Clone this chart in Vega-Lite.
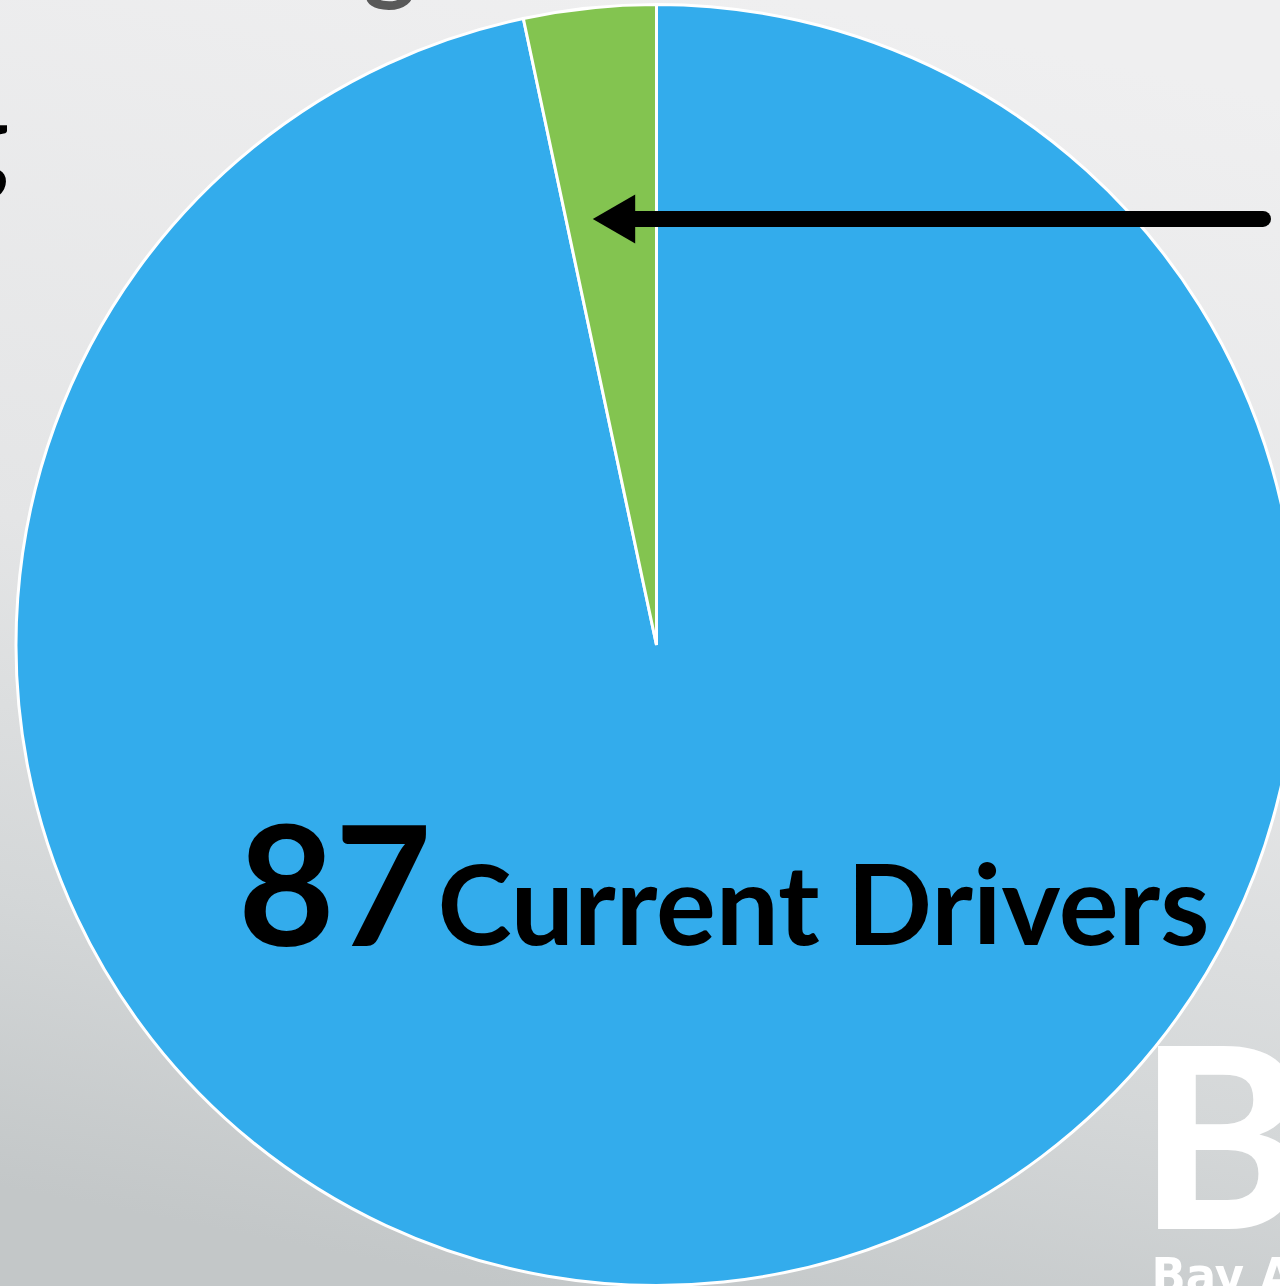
{
  "$schema": "https://vega.github.io/schema/vega-lite/v6.json",
  "autosize": "none",
  "width": 1313,
  "height": 1290,
  "padding": 0,
  "background": "#e6e7e8",
  "config": {"view": {"stroke": null}},
  "data": {
    "values": [
      {"category": "Current Drivers", "count": 87, "rank": 1},
      {"category": "Drivers in Training", "count": 3, "rank": 2}
    ]
  },
  "layer": [
    {
      "data": {"values": [{"label": "background"}]},
      "mark": {
        "type": "rect",
        "fill": {
          "gradient": "linear",
          "x1": 0.6, "y1": 0, "x2": 0.4, "y2": 1,
          "stops": [
            {"offset": 0, "color": "#efeff0"},
            {"offset": 0.5, "color": "#e4e5e6"},
            {"offset": 0.78, "color": "#d4d7d8"},
            {"offset": 1, "color": "#c3c7c8"}
          ]
        }
      },
      "encoding": {}
    },
    {
      "mark": {"type": "arc", "radius": 640.5, "stroke": "#ffffff", "strokeWidth": 3},
      "encoding": {
        "theta": {"field": "count", "type": "quantitative", "stack": true},
        "order": {"field": "rank", "type": "quantitative"},
        "color": {
          "field": "category",
          "type": "nominal",
          "scale": {"domain": ["Current Drivers", "Drivers in Training"], "range": ["#33acec", "#83c450"]},
          "legend": null
        }
      }
    },
    {
      "transform": [{"filter": "datum.category === 'Drivers in Training'"}],
      "mark": {"type": "rule", "color": "#000000", "strokeWidth": 16, "strokeCap": "round"},
      "encoding": {
        "x": {"datum": -0.049, "type": "quantitative", "scale": {"domain": [-1.0226, 1.0226], "nice": false, "zero": false}, "axis": null},
        "x2": {"datum": 0.9447},
        "y": {"datum": 0.6636, "type": "quantitative", "scale": {"domain": [-1.00467, 1.00467], "nice": false, "zero": false}, "axis": null}
      }
    },
    {
      "transform": [{"filter": "datum.category === 'Drivers in Training'"}],
      "mark": {"type": "point", "shape": "triangle-left", "filled": true, "color": "#000000", "opacity": 1, "size": 2400, "strokeWidth": 0},
      "encoding": {
        "x": {"datum": -0.0662, "type": "quantitative", "scale": {"domain": [-1.0226, 1.0226], "nice": false, "zero": false}, "axis": null},
        "y": {"datum": 0.6636, "type": "quantitative", "scale": {"domain": [-1.00467, 1.00467], "nice": false, "zero": false}, "axis": null}
      }
    },
    {
      "transform": [{"filter": "datum.category === 'Current Drivers'"}],
      "mark": {"type": "text", "font": "Lato", "fontWeight": "bold", "fontSize": 167, "color": "#000000", "align": "left", "baseline": "alphabetic"},
      "encoding": {
        "text": {"field": "count", "type": "quantitative"},
        "x": {"datum": -0.6519, "type": "quantitative", "scale": {"domain": [-1.0226, 1.0226], "nice": false, "zero": false}, "axis": null},
        "y": {"datum": -0.4688, "type": "quantitative", "scale": {"domain": [-1.00467, 1.00467], "nice": false, "zero": false}, "axis": null}
      }
    },
    {
      "transform": [{"filter": "datum.category === 'Current Drivers'"}],
      "mark": {"type": "text", "font": "Lato", "fontWeight": "bold", "fontSize": 112, "color": "#000000", "align": "left", "baseline": "alphabetic"},
      "encoding": {
        "text": {"field": "category", "type": "nominal"},
        "x": {"datum": -0.3411, "type": "quantitative", "scale": {"domain": [-1.0226, 1.0226], "nice": false, "zero": false}, "axis": null},
        "y": {"datum": -0.4673, "type": "quantitative", "scale": {"domain": [-1.00467, 1.00467], "nice": false, "zero": false}, "axis": null}
      }
    },
    {
      "data": {"values": [{"label": "B"}]},
      "mark": {"type": "text", "font": "Lato", "fontWeight": 900, "fontSize": 251, "color": "#ffffff", "align": "left", "baseline": "alphabetic"},
      "encoding": {
        "text": {"field": "label", "type": "nominal"},
        "x": {"datum": 0.7516, "type": "quantitative", "scale": {"domain": [-1.0226, 1.0226], "nice": false, "zero": false}, "axis": null},
        "y": {"datum": -0.9097, "type": "quantitative", "scale": {"domain": [-1.00467, 1.00467], "nice": false, "zero": false}, "axis": null}
      }
    },
    {
      "data": {"values": [{"label": "Bay Area"}]},
      "mark": {"type": "text", "font": "Liberation Sans Narrow, DejaVu Sans Condensed, Liberation Sans", "fontWeight": "bold", "fontSize": 50, "color": "#ffffff", "align": "left", "baseline": "alphabetic"},
      "encoding": {
        "text": {"field": "label", "type": "nominal"},
        "x": {"datum": 0.7711, "type": "quantitative", "scale": {"domain": [-1.0226, 1.0226], "nice": false, "zero": false}, "axis": null},
        "y": {"datum": -1.0093, "type": "quantitative", "scale": {"domain": [-1.00467, 1.00467], "nice": false, "zero": false}, "axis": null}
      }
    },
    {
      "data": {"values": [{"label": "g"}]},
      "mark": {"type": "text", "font": "Lato", "fontWeight": "bold", "fontSize": 100, "color": "#595959", "align": "center", "baseline": "alphabetic"},
      "encoding": {
        "text": {"field": "label", "type": "nominal"},
        "x": {"datum": -0.4151, "type": "quantitative", "scale": {"domain": [-1.0226, 1.0226], "nice": false, "zero": false}, "axis": null},
        "y": {"datum": 1.0171, "type": "quantitative", "scale": {"domain": [-1.00467, 1.00467], "nice": false, "zero": false}, "axis": null}
      }
    },
    {
      "data": {"values": [{"label": "g"}]},
      "mark": {"type": "text", "font": "Lato", "fontWeight": "bold", "fontSize": 113, "color": "#000000", "align": "right", "baseline": "alphabetic"},
      "encoding": {
        "text": {"field": "label", "type": "nominal"},
        "x": {"datum": -1.0086, "type": "quantitative", "scale": {"domain": [-1.0226, 1.0226], "nice": false, "zero": false}, "axis": null},
        "y": {"datum": 0.7212, "type": "quantitative", "scale": {"domain": [-1.00467, 1.00467], "nice": false, "zero": false}, "axis": null}
      }
    }
  ]
}
